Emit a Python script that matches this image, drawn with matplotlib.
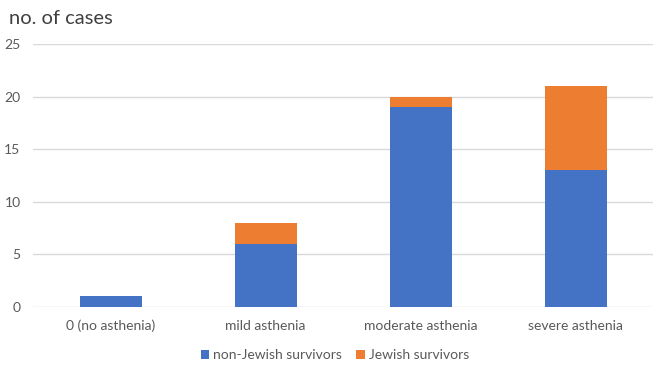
import matplotlib
matplotlib.use("Agg")
import matplotlib.pyplot as plt
import numpy as np

categories = ["0 (no asthenia)", "mild asthenia", "moderate asthenia", "severe asthenia"]
non_jewish = [1, 6, 19, 13]
jewish = [0, 2, 1, 8]
yticks = [0, 5, 10, 15, 20, 25]

plt.rcParams['font.family'] = ['Lato', 'DejaVu Sans']

fig = plt.figure(figsize=(6.56, 3.71), dpi=100)
ax = fig.add_axes([33/656, 1 - 307/371, (653-33)/656, (307-44)/371])

x = np.arange(len(categories))
ax.bar(x, non_jewish, width=0.4, color="#4472C4", label="non-Jewish survivors", zorder=3)
ax.bar(x, jewish, width=0.4, bottom=non_jewish, color="#ED7D31", label="Jewish survivors", zorder=3)

ax.set_xlim(-0.5, len(categories) - 0.5)
ax.set_ylim(0, 25)
ax.set_yticks(yticks)
ax.set_yticklabels([str(v) for v in yticks])
ax.set_xticks(x)
ax.set_xticklabels(categories)
ax.tick_params(axis='both', length=0, labelsize=10, colors="#595959")
ax.tick_params(axis='y', pad=9)
ax.tick_params(axis='x', pad=9)
ax.yaxis.grid(True, color="#D9D9D9", linewidth=1, zorder=0)
for s in ax.spines.values():
    s.set_visible(False)

fig.text(9/656, 1 - 18/371, "no. of cases", fontsize=14.5, color="#404040", va="center", ha="left")

leg = fig.legend(loc="center", bbox_to_anchor=(335/656, 1 - 355/371), ncol=2, frameon=False,
                 fontsize=10, handlelength=0.6, handleheight=0.6, handletextpad=0.3, columnspacing=1.0)
for t in leg.get_texts():
    t.set_color("#595959")

fig.savefig("out.png", dpi=100)
